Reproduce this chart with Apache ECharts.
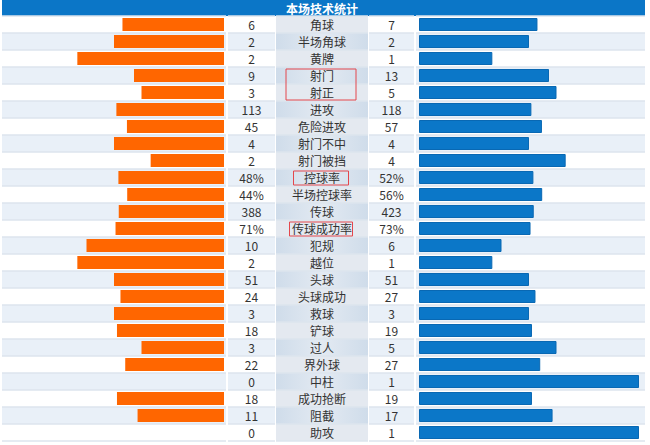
<!DOCTYPE html>
<html>
<head>
<meta charset="utf-8">
<style>
  html, body { margin: 0; padding: 0; background: #fff; }
  #chart { width: 650px; height: 445px; }
</style>
<script src="https://cdn.jsdelivr.net/npm/echarts@6/dist/echarts.min.js"></script>
</head>
<body>
<div id="chart"></div>
<script>
const statNames = ['角球', '半场角球', '黄牌', '射门', '射正', '进攻', '危险进攻', '射门不中', '射门被挡', '控球率',
  '半场控球率', '传球', '传球成功率', '犯规', '越位', '头球', '头球成功', '救球', '铲球', '过人',
  '界外球', '中柱', '成功抢断', '阻截', '助攻'];
const homeValues = [6, 2, 2, 9, 3, 113, 45, 4, 2, 48, 44, 388, 71, 10, 2, 51, 24, 3, 18, 3, 22, 0, 18, 11, 0];
const awayValues = [7, 2, 1, 13, 5, 118, 57, 4, 4, 52, 56, 423, 73, 6, 1, 51, 27, 3, 19, 5, 27, 1, 19, 17, 1];
const percentStats = ['控球率', '半场控球率', '传球成功率'];
const highlightGroups = [['射门', '射正'], ['控球率'], ['传球成功率']];
const titleText = '本场技术统计';

// bars show each side's share of the row total
const homeShare = homeValues.map((v, i) => (v + awayValues[i]) ? v / (v + awayValues[i]) : 0);
const awayShare = awayValues.map((v, i) => (v + homeValues[i]) ? v / (v + homeValues[i]) : 0);
const fmt = (v, i) => percentStats.includes(statNames[i]) ? v + '%' : String(v);
const homeTexts = homeValues.map(fmt);
const awayTexts = awayValues.map(fmt);

const TOP = 16;
const ROW_H = 17;
const tableHeight = ROW_H * statNames.length;
const FONT = '"Microsoft YaHei", "Noto Sans CJK SC", sans-serif';
const boxWidths = [70, 55, 63];

const rowStripes = ['#ffffff', '#e9f0f8'];
const labelStripes = ['#e4e9f0', new echarts.graphic.LinearGradient(0, 0, 1, 0, [
  { offset: 0, color: '#cfdcea' },
  { offset: 0.5, color: '#e3eaf2' },
  { offset: 1, color: '#cfdcea' }
])];

const columns = [
  { left: 2, width: 224, stripes: rowStripes },
  { left: 228, width: 47, stripes: rowStripes, text: homeTexts },
  { left: 276, width: 92, stripes: labelStripes, text: statNames },
  { left: 369, width: 45, stripes: rowStripes, text: awayTexts },
  { left: 416, width: 229, stripes: rowStripes },
  { left: 4, width: 220, inverse: true },
  { left: 419, width: 220 }
];

const chart = echarts.init(document.getElementById('chart'), null, { renderer: 'svg' });

chart.setOption({
  animation: false,
  title: {
    text: titleText,
    left: 322,
    textAlign: 'center',
    top: 1,
    padding: 0,
    textStyle: { color: '#fff', fontSize: 12, fontWeight: 'bold', fontFamily: FONT, lineHeight: 15 }
  },
  graphic: [{
    type: 'rect',
    left: 2,
    top: 0,
    z: -1,
    shape: { width: 643, height: 16 },
    style: { fill: '#0b76c7' }
  }],
  grid: columns.map(c => ({ left: c.left, width: c.width, top: TOP, height: tableHeight })),
  xAxis: columns.map((c, i) => ({
    gridIndex: i,
    type: 'value',
    min: 0,
    max: 1,
    inverse: !!c.inverse,
    show: false
  })),
  yAxis: columns.map((c, i) => ({
    gridIndex: i,
    type: 'category',
    data: statNames,
    inverse: true,
    axisLine: { show: false },
    axisTick: { show: false },
    axisLabel: c.text ? {
      show: true,
      interval: 0,
      margin: -c.width / 2,
      align: 'center',
      formatter: (v, idx) => c.text[idx],
      color: '#333',
      fontSize: 12,
      fontFamily: FONT
    } : { show: false },
    splitArea: c.stripes ? { show: true, interval: 0, areaStyle: { color: c.stripes } } : { show: false },
    splitLine: c.stripes ? { show: true, interval: 0, lineStyle: { color: '#dde5ee', width: 1.5 } } : { show: false }
  })),
  series: [
    {
      type: 'bar',
      xAxisIndex: 5,
      yAxisIndex: 5,
      data: homeShare,
      barWidth: 13,
      silent: true,
      itemStyle: { color: '#ff6600' }
    },
    {
      type: 'bar',
      xAxisIndex: 6,
      yAxisIndex: 6,
      data: awayShare,
      barWidth: 13,
      silent: true,
      itemStyle: { color: '#0b77c8', borderColor: '#0968b3', borderWidth: 1 }
    },
    {
      type: 'custom',
      xAxisIndex: 2,
      yAxisIndex: 2,
      silent: true,
      z: 10,
      data: highlightGroups.map(g => [0.5, statNames.indexOf(g[0]), statNames.indexOf(g[g.length - 1])]),
      encode: { x: 0, y: 1 },
      renderItem: (params, api) => {
        const w = boxWidths[params.dataIndex];
        const half = api.size([0, 1])[1] / 2;
        const a = api.coord([0.5, api.value(1)]);
        const b = api.coord([0.5, api.value(2)]);
        return {
          type: 'rect',
          shape: { x: a[0] - w / 2 - 1, y: a[1] - half + 2, width: w, height: b[1] - a[1] + 2 * half - 3 },
          style: { fill: 'none', stroke: '#e4474c', lineWidth: 1 }
        };
      }
    }
  ]
});
</script>
</body>
</html>
